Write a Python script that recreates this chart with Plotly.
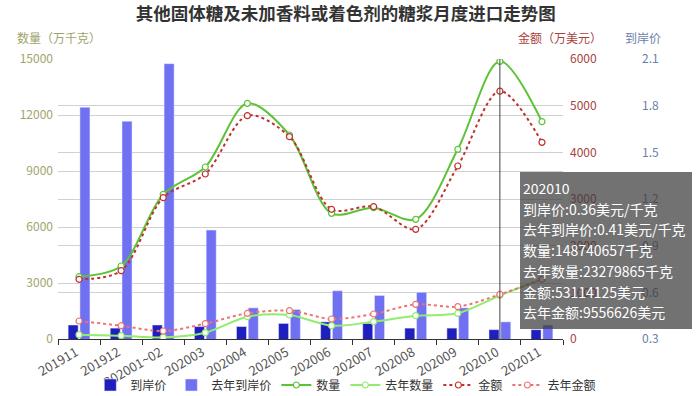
import plotly.graph_objects as go

categories = ["201911", "201912", "202001~02", "202003", "202004", "202005",
              "202006", "202007", "202008", "202009", "202010", "202011"]
# 到岸价 (美元/千克)
price = [0.39, 0.37, 0.39, 0.38, 0.38, 0.40, 0.41, 0.40, 0.37, 0.37, 0.36, 0.36]
price_last = [1.79, 1.70, 2.07, 1.00, 0.50, 0.49, 0.61, 0.58, 0.60, 0.50, 0.41, 0.39]
# 数量 (万千克)
qty = [3338, 3911, 7750, 9214, 12625, 10929, 6732, 7036, 6411, 10161, 14874.0657, 11643]
qty_last = [232, 179, 89, 339, 1196, 1286, 714, 929, 1250, 1375, 2327.9865, 3198]
# 金额 (万美元)
amt = [1279, 1464, 3029, 3536, 4786, 4336, 2779, 2836, 2350, 3707, 5311.4125, 4214]
amt_last = [386, 285, 171, 329, 550, 607, 429, 536, 743, 693, 955.6626, 1279]

tip_idx = 10

FONT = "Noto Sans CJK SC"
L, R, T, B = 58, 20, 59, 57
W, H = 700, 396
PW = W - L - R
PH = H - T - B
XEND = (563 - L) / PW

def px(x):
    return (x - L) / PW

def py(y):
    return (H - B - y) / PH

fig = go.Figure()

fig.add_trace(go.Bar(name="到岸价", x=categories, y=price, marker_color="#1f1fc0",
                     yaxis="y", hoverinfo="skip"))
fig.add_trace(go.Bar(name="去年到岸价", x=categories, y=price_last, marker_color="#7070f2",
                     yaxis="y", hoverinfo="skip"))

def line(name, y, color, axis, dash, fill="white"):
    fig.add_trace(go.Scatter(
        name=name, x=categories, y=y, yaxis=axis, mode="lines+markers",
        line=dict(color=color, width=2, shape="spline", smoothing=0.9, dash=dash),
        marker=dict(symbol="circle", size=6, color=fill, line=dict(color=color, width=1.2)),
        hoverinfo="skip"))

line("数量", qty, "#5cc236", "y2", "solid")
line("去年数量", qty_last, "#92ec6e", "y2", "solid")
line("金额", amt, "#c0302e", "y3", "dot")
line("去年金额", amt_last, "#ee7272", "y3", "dot")

grid = "#d0d0d0"
fig.update_layout(
    width=W, height=H,
    margin=dict(l=L, r=R, t=T, b=B, autoexpand=False),
    paper_bgcolor="white", plot_bgcolor="white",
    font=dict(family=FONT, size=12, color="#333"),
    barmode="group", bargap=0.44, bargroupgap=0.15,
    showlegend=True,
    hovermode=False,
    title=dict(text="<b>其他固体糖及未加香料或着色剂的糖浆月度进口走势图</b>",
               x=0.494, xref="container", xanchor="center",
               y=1 - 14 / H, yref="container", yanchor="middle",
               font=dict(size=17.5, color="#333", family=FONT)),
    xaxis=dict(domain=[0, XEND], type="category", range=[-0.5, len(categories) - 0.5],
               showgrid=False,
               showline=True, linecolor="#333", linewidth=1,
               ticks="outside", tickson="boundaries", ticklen=5, tickcolor="#333",
               tickangle=-30, tickfont=dict(size=13, color="#555"), ticklabelshift=-3,
               fixedrange=True),
    yaxis=dict(range=[0.3, 2.1], dtick=0.3, tick0=0.3, side="right", anchor="free",
               position=px(641), showgrid=False, zeroline=False, showline=False,
               tickformat=".1f", tickfont=dict(color="#6b80aa", size=12)),
    yaxis2=dict(range=[0, 15000], dtick=3000, overlaying="y", side="left", anchor="x",
                showgrid=True, gridcolor=grid, zeroline=False, showline=False,
                tickformat="d",
                tickfont=dict(color="#a0a46c", size=12), ticks="", ticklabelstandoff=4),
    yaxis3=dict(range=[0, 6000], dtick=1000, overlaying="y", side="right", anchor="x",
                showgrid=True, gridcolor=grid, zeroline=False, showline=False,
                tickformat="d",
                tickfont=dict(color="#a8423e", size=12), ticks="", ticklabelstandoff=6),
    legend=dict(orientation="h", xref="container", x=0.494, xanchor="center",
                yref="container", y=1 - 385 / H, yanchor="middle",
                bgcolor="rgba(0,0,0,0)",
                font=dict(size=12, color="#333"),
                tracegroupgap=0, traceorder="normal"),
)

ann = [
    dict(text="数量（万千克）", x=px(59), y=py(37), color="#a0a46c"),
    dict(text="金额（万美元）", x=px(560), y=py(37), color="#a8423e"),
    dict(text="到岸价", x=px(643), y=py(37), color="#6b80aa"),
]
for a in ann:
    fig.add_annotation(text=a["text"], x=a["x"], y=a["y"], xref="paper", yref="paper",
                       showarrow=False, xanchor="center", yanchor="middle",
                       font=dict(size=12, color=a["color"], family=FONT))

# crosshair line (category index)
fig.add_shape(type="line", xref="x", yref="paper", x0=tip_idx, x1=tip_idx,
              y0=0, y1=1, line=dict(color="#444", width=1), layer="above")

# tooltip
x0, x1, y0, y1 = 520, 692, 172, 329
fig.add_shape(type="rect", xref="paper", yref="paper", x0=px(x0), x1=px(x1), y0=py(y1), y1=py(y0),
              fillcolor="rgba(60,60,60,0.72)", line=dict(width=0), layer="above")
tip_lines = [
    categories[tip_idx],
    f"到岸价:{price[tip_idx]:.2f}美元/千克",
    f"去年到岸价:{price_last[tip_idx]:.2f}美元/千克",
    f"数量:{round(qty[tip_idx] * 10000)}千克",
    f"去年数量:{round(qty_last[tip_idx] * 10000)}千克",
    f"金额:{round(amt[tip_idx] * 10000)}美元",
    f"去年金额:{round(amt_last[tip_idx] * 10000)}美元",
]
for i, t in enumerate(tip_lines):
    fig.add_annotation(text=t, x=px(521), y=py(188 + i * 20.7), xref="paper", yref="paper",
                       showarrow=False, xanchor="left", yanchor="middle",
                       font=dict(size=14, color="white", family=FONT))

fig.write_html("out.html", config={"displayModeBar": False},
               post_script="document.body.style.margin='0';document.documentElement.style.overflow='hidden';")
